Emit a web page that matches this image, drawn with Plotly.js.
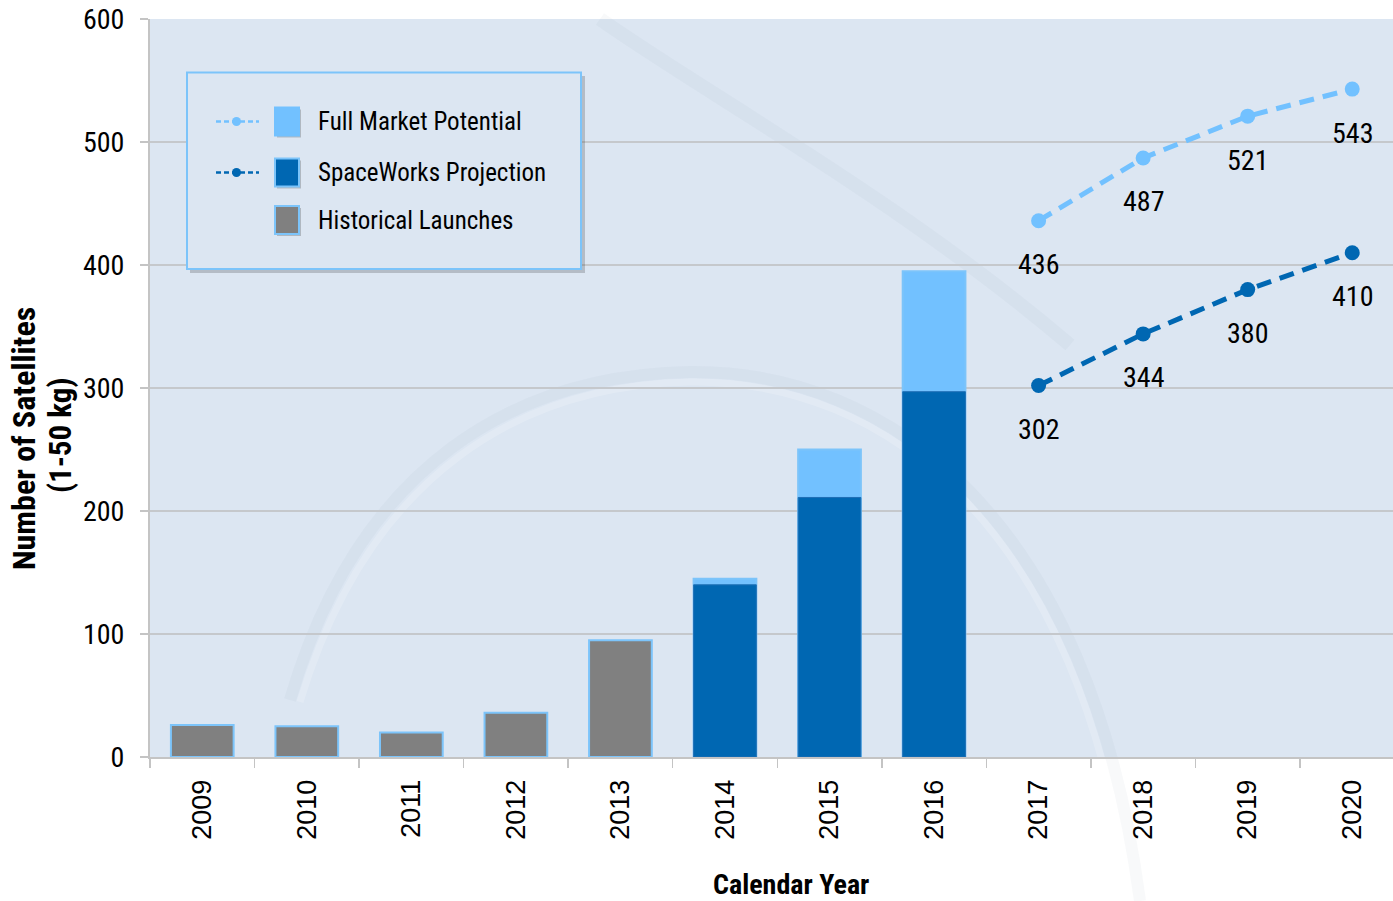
<!DOCTYPE html>
<html>
<head>
<meta charset="utf-8">
<script src="https://cdn.plot.ly/plotly-3.0.1.min.js"></script>
<style>
html,body{margin:0;padding:0;background:#fff;overflow:hidden;}
#chart{width:1393px;height:901px;}
</style>
</head>
<body>
<div id="chart"></div>
<script>
// ---- data ----
const years = ['2009','2010','2011','2012','2013','2014','2015','2016','2017','2018','2019','2020'];
const histYears = ['2009','2010','2011','2012','2013'];
const histValues = [26, 25, 20, 36, 95];
const barProjYears = ['2014','2015','2016'];
const fullMarketBars = [145, 250, 395];
const spaceWorksBars = [140, 211, 297];
const projYears = ['2017','2018','2019','2020'];
const fullMarketLine = [436, 487, 521, 543];
const spaceWorksLine = [302, 344, 380, 410];
const legendLabels = ['Full Market Potential', 'SpaceWorks Projection', 'Historical Launches'];
const yTitleLines = ['Number of Satellites', '(1-50 kg)'];
const xTitle = 'Calendar Year';

// ---- style ----
const LIGHT = '#72C1FF';
const DARK = '#0067B2';
const GRAY = '#808080';
const OUTLINE = '#7CC4FA';
const BG = '#DCE6F2';
const NARROW = '"Roboto Condensed", "Liberation Sans", sans-serif';
const SANS = '"Liberation Sans", Arial, sans-serif';

const W = 1393, H = 901, L = 150, R = 0, T = 19, B = 144;
const pw = W - L - R, ph = H - T - B;
const px = v => (v - L) / pw;
const py = v => (H - B - v) / ph;
// convert a pixel-space path into a paper-space path string
function ppath(cmds) {
  return cmds.map(c => c[0] + ' ' + c.slice(1).map((v, k) => (k % 2 === 0 ? px(v) : py(v)).toFixed(5)).join(',')).join(' ');
}

const traces = [
  {type:'bar', x: barProjYears, y: fullMarketBars, width: 0.6, name: legendLabels[0],
   marker:{color: LIGHT, line:{color: OUTLINE, width: 2}}},
  {type:'bar', x: barProjYears, y: spaceWorksBars, width: 0.6, name: legendLabels[1],
   marker:{color: DARK, line:{color: '#1F6FB5', width: 1}}},
  {type:'bar', x: histYears, y: histValues, width: 0.6, name: legendLabels[2],
   marker:{color: GRAY, line:{color: OUTLINE, width: 2}}},
  {type:'scatter', mode:'lines+markers', x: projYears, y: fullMarketLine, name: legendLabels[0],
   line:{color: LIGHT, width: 5, dash: '15px,9px'}, marker:{color: LIGHT, size: 15}},
  {type:'scatter', mode:'lines+markers', x: projYears, y: spaceWorksLine, name: legendLabels[1],
   line:{color: DARK, width: 5, dash: '15px,9px'}, marker:{color: DARK, size: 15}}
];

const annotations = [];
projYears.forEach((yr, i) => {
  const xi = years.indexOf(yr);
  annotations.push({x: xi, y: fullMarketLine[i], xref:'x', yref:'y', text: String(fullMarketLine[i]),
    showarrow:false, yshift:-44, font:{family: NARROW, size: 28, color:'#000'}});
  annotations.push({x: xi, y: spaceWorksLine[i], xref:'x', yref:'y', text: String(spaceWorksLine[i]),
    showarrow:false, yshift:-44, font:{family: NARROW, size: 28, color:'#000'}});
});
// axis titles
annotations.push({xref:'paper', yref:'paper', x: px(791), y: py(884), text: xTitle, showarrow:false,
  xanchor:'center', yanchor:'middle', font:{family: NARROW, size: 28, color:'#000', weight: 'bold'}});
annotations.push({xref:'paper', yref:'paper', x: px(24), y: py(439), text: yTitleLines[0], showarrow:false,
  textangle:-90, xanchor:'center', yanchor:'middle', font:{family: NARROW, size: 32, color:'#000', weight:'bold'}});
annotations.push({xref:'paper', yref:'paper', x: px(61), y: py(435), text: yTitleLines[1], showarrow:false,
  textangle:-90, xanchor:'center', yanchor:'middle', font:{family: NARROW, size: 31, color:'#000', weight:'bold'}});

// very faint background watermark swooshes
const shapes = [
  {type:'path', xref:'paper', yref:'paper', layer:'below',
   path: ppath([['M',290,700],['C',360,460,520,375,690,372],['C',890,370,1090,520,1140,901]]),
   line:{color:'rgba(120,130,150,0.05)', width:12}},
  {type:'path', xref:'paper', yref:'paper', layer:'below',
   path: ppath([['M',300,702],['C',370,470,525,385,690,382],['C',885,380,1080,525,1130,901]]),
   line:{color:'rgba(255,255,255,0.18)', width:7}},
  {type:'path', xref:'paper', yref:'paper', layer:'below',
   path: ppath([['M',600,19],['C',700,90,900,200,1070,345]]),
   line:{color:'rgba(120,130,150,0.05)', width:14}}
];

// custom legend
const rowsY = [121.5, 172.5, 220];
shapes.push(
  {type:'rect', xref:'paper', yref:'paper', x0: px(190), x1: px(585), y0: py(76), y1: py(273),
   fillcolor:'rgba(0,0,0,0.18)', line:{width:0}, layer:'above'},
  {type:'rect', xref:'paper', yref:'paper', x0: px(187), x1: px(581), y0: py(72.5), y1: py(269),
   fillcolor: BG, line:{color: OUTLINE, width: 2}, layer:'above'}
);
const legendColors = [LIGHT, DARK, GRAY];
legendLabels.forEach((lab, i) => {
  const cy = rowsY[i];
  if (i < 2) {
    shapes.push({type:'line', xref:'paper', yref:'paper', x0: px(216), x1: px(259), y0: py(cy), y1: py(cy),
      line:{color: legendColors[i], width: 2.5, dash:'5px,3px'}, layer:'above'});
    shapes.push({type:'circle', xref:'paper', yref:'paper', x0: px(232), x1: px(241), y0: py(cy-4.5), y1: py(cy+4.5),
      fillcolor: legendColors[i], line:{width:0}, layer:'above'});
  }
  shapes.push({type:'rect', xref:'paper', yref:'paper', x0: px(277), x1: px(301), y0: py(cy-12), y1: py(cy+16),
    fillcolor:'rgba(0,0,0,0.2)', line:{width:0}, layer:'above'});
  shapes.push({type:'rect', xref:'paper', yref:'paper', x0: px(275), x1: px(299), y0: py(cy-14), y1: py(cy+14),
    fillcolor: legendColors[i], line:{color: i === 0 ? LIGHT : OUTLINE, width: 2}, layer:'above'});
  annotations.push({xref:'paper', yref:'paper', x: px(316), y: py(cy), text: lab, showarrow:false,
    xanchor:'left', yanchor:'middle', font:{family: NARROW, size: 25, color:'#000'}});
});

const layout = {
  width: W, height: H,
  margin:{l: L, r: R, t: T, b: B, pad: 0},
  paper_bgcolor:'#ffffff', plot_bgcolor: BG,
  barmode:'overlay', showlegend:false,
  xaxis:{type:'category', categoryorder:'array', categoryarray: years, range:[-0.5, 11.39],
    showline:true, linecolor:'#C4C4C4', linewidth:2, ticks:'outside', tickson:'boundaries',
    ticklen:9, tickcolor:'#C4C4C4', tickwidth:1.5, tickangle:-90, ticklabelstandoff: 10,
    tickfont:{family: SANS, size: 27, color:'#000'}, showgrid:false, zeroline:false, fixedrange:true},
  yaxis:{range:[0, 600], dtick:100, tick0:0, showline:true, linecolor:'#C4C4C4', linewidth:2,
    ticks:'outside', ticklen:8, tickcolor:'#C4C4C4', tickwidth:1.5, ticklabelstandoff: 10,
    gridcolor:'#C5C8CC', gridwidth:1.5, zeroline:false,
    tickfont:{family: NARROW, size: 28, color:'#000'}, fixedrange:true},
  shapes: shapes,
  annotations: annotations
};

Plotly.newPlot('chart', traces, layout, {displayModeBar:false, staticPlot:true});
</script>
</body>
</html>
